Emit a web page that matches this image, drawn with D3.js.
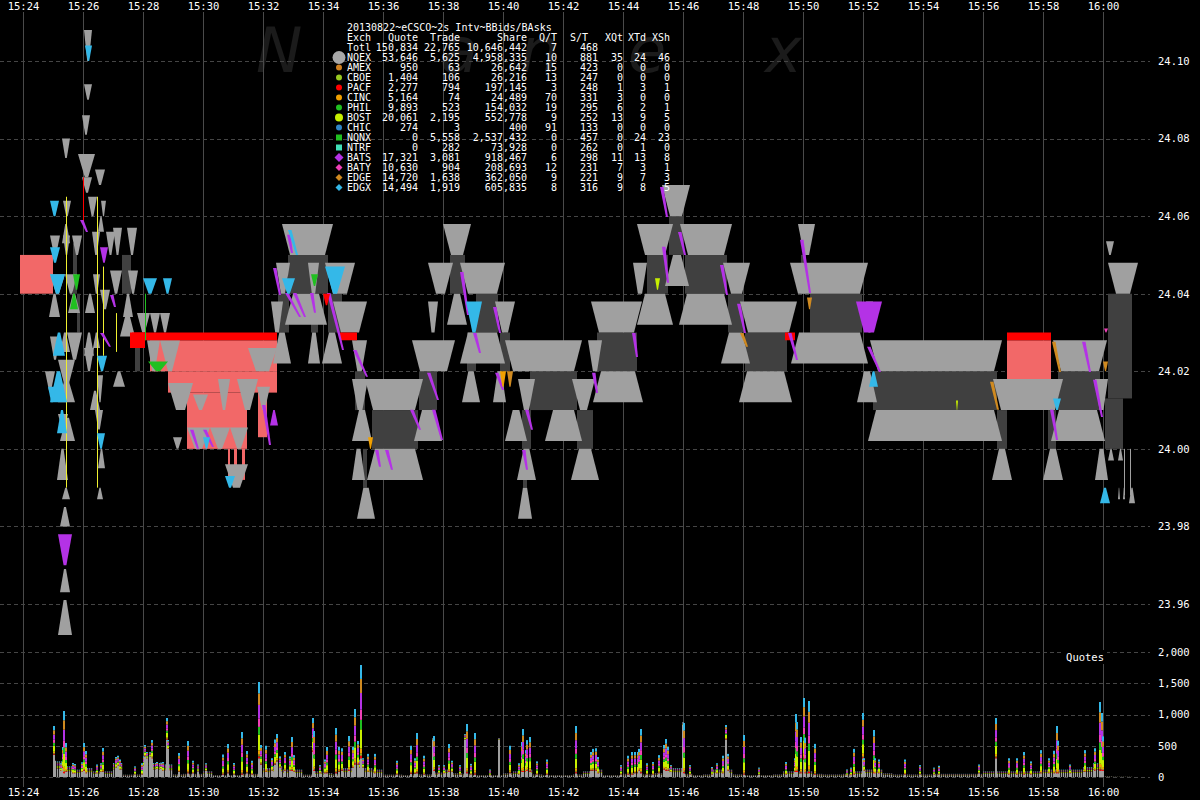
<!DOCTYPE html>
<html><head><meta charset="utf-8">
<script src="https://cdn.jsdelivr.net/npm/d3@7"></script>
<style>
html,body{margin:0;padding:0;background:#000;}
svg{display:block;}
</style></head><body>
<svg id="c" width="1200" height="800"></svg>
<script>
// ---------------- DATA ----------------
const chartTitle = "20130822~eCSCO~2s Intv~BBids/BAsks";
const priceTicks = [23.96, 23.98, 24.00, 24.02, 24.04, 24.06, 24.08, 24.10];
const volumeTicks = [0, 500, 1000, 1500, 2000];

const exchanges   = ["NQEX","AMEX","CBOE","PACF","CINC","PHIL","BOST","CHIC","NQNX","NTRF","BATS","BATY","EDGE","EDGX"];
const quoteCounts = [53646,950,1404,2277,5164,9893,20061,274,0,0,17321,10630,14720,14494];
const tradeCounts = [5625,63,106,794,74,523,2195,3,5558,282,3081,904,1638,1919];
const shareCounts = [4958335,26642,26216,197145,24489,154032,552778,400,2537432,73928,918467,208693,362050,605835];
const qtRatio = [10,15,13,3,70,19,9,91,0,0,6,12,9,8];
const stRatio = [881,423,247,248,331,295,252,133,457,262,298,231,221,316];
const pctQt = [35,0,0,1,3,6,13,0,0,0,11,7,9,9];
const pctTd = [24,0,0,3,0,2,9,0,24,1,13,3,7,8];
const pctSh = [46,0,0,1,0,1,5,0,23,0,8,1,3,5];
const totalRow = ["150,834","22,765","10,646,442","7","468"];

// NBBO best ask levels [start, end, price]
const nbboAsks = [
 ["15:32:38","15:34:20",24.05],["15:32:26","15:32:54",24.04],["15:33:30","15:33:52",24.04],["15:34:04","15:35:04",24.04],
 ["15:34:20","15:35:28",24.03],["15:32:16","15:32:40",24.03],["15:34:58","15:35:28",24.02],["15:34:58","15:35:30",24.01],
 ["15:35:24","15:37:20",24.01],["15:36:58","15:38:24",24.02],["15:37:30","15:38:20",24.04],["15:38:00","15:38:56",24.05],
 ["15:37:30","15:37:50",24.03],["15:38:34","15:40:04",24.04],["15:39:44","15:40:24",24.03],["15:40:04","15:42:38",24.02],
 ["15:40:30","15:41:04",24.01],["15:42:18","15:43:04",24.01],["15:42:56","15:44:38",24.03],["15:42:50","15:43:18",24.02],
 ["15:44:28","15:45:40",24.05],["15:44:20","15:44:48",24.04],["15:45:18","15:46:14",24.06],["15:45:54","15:47:38",24.05],
 ["15:47:20","15:48:14",24.04],["15:47:54","15:49:48",24.03],["15:49:50","15:50:24",24.05],["15:49:34","15:52:10",24.04],
 ["15:52:06","15:52:20",24.03],["15:52:14","15:56:38",24.02],["15:56:20","15:58:40",24.01],["15:58:20","16:00:08",24.02],
 ["15:59:44","16:00:10",24.01],["16:00:10","16:01:10",24.04]
];
// NBBO best bid levels [start, end, price]
const nbboBids = [
 ["15:32:44","15:34:08",24.04],["15:32:20","15:32:56",24.03],["15:33:30","15:33:54",24.03],["15:33:58","15:34:38",24.03],
 ["15:34:58","15:35:38",24.01],["15:34:58","15:35:24",24.00],["15:35:08","15:35:44",23.99],["15:35:28","15:37:20",24.00],
 ["15:37:02","15:37:58",24.01],["15:38:08","15:38:48",24.04],["15:38:34","15:40:04",24.03],["15:38:38","15:39:14",24.02],
 ["15:39:40","15:40:06",24.02],["15:40:04","15:40:48",24.01],["15:41:24","15:42:38",24.01],["15:40:28","15:41:06",24.00],
 ["15:40:30","15:40:58",23.99],["15:42:16","15:43:12",24.00],["15:43:00","15:44:40",24.02],["15:44:28","15:45:40",24.04],
 ["15:45:24","15:46:12",24.05],["15:45:52","15:47:38",24.04],["15:47:16","15:48:14",24.03],["15:47:52","15:49:38",24.02],
 ["15:49:36","15:52:10",24.03],["15:51:48","15:52:28",24.02],["15:52:10","15:56:38",24.01],["15:56:18","15:56:58",24.00],
 ["15:58:16","16:00:04",24.01],["15:58:00","15:58:40",24.00],["15:59:44","16:00:10",24.00]
];
// NBBO spread [start, end, bid, ask]
const nbboSpreads = [
 ["15:25:40","15:25:48",24.04,24.053],["15:27:18","15:27:36",24.04,24.05],["15:25:48","15:25:54",24.03,24.04],["15:27:44","15:27:54",24.02,24.028],
 ["15:32:50","15:34:10",24.04,24.05],["15:32:30","15:32:52",24.03,24.04],["15:33:36","15:33:50",24.03,24.04],["15:34:10","15:34:38",24.03,24.04],
 ["15:35:04","15:35:24",24.01,24.02],["15:35:38","15:37:10",24.00,24.01],["15:35:20","15:35:28",23.99,24.00],["15:37:12","15:37:48",24.01,24.02],
 ["15:38:14","15:38:44",24.04,24.05],["15:39:06","15:39:50",24.03,24.04],["15:38:48","15:39:06",24.02,24.03],["15:39:54","15:40:14",24.02,24.03],
 ["15:40:54","15:42:28",24.01,24.02],["15:40:38","15:40:56",24.00,24.01],["15:40:40","15:40:48",23.99,24.00],["15:42:28","15:43:00",24.00,24.01],
 ["15:43:08","15:44:28",24.02,24.03],["15:44:48","15:45:30",24.04,24.05],["15:45:32","15:46:02",24.05,24.06],["15:46:04","15:47:28",24.04,24.05],
 ["15:47:30","15:48:00",24.03,24.04],["15:48:04","15:49:28",24.02,24.03],["15:50:14","15:51:58",24.03,24.04],["15:52:20","15:56:28",24.01,24.02],
 ["15:56:28","15:56:48",24.00,24.01],["15:58:30","15:59:54",24.01,24.02],["15:58:10","15:58:26",24.00,24.01],["16:00:10","16:00:58",24.013,24.04],
 ["16:00:04","16:00:40",24.00,24.013],["15:49:56","15:50:06",24.04,24.05]
];
// fleeting quotes [start, end, price at spread side, far price, exchange]
const flashQuotes = [
 ["15:25:20","15:25:36",24.06,24.064,"NQEX"],["15:26:10","15:26:28",24.06,24.065,"NQEX"],["15:26:36","15:26:46",24.06,24.064,"NQEX"],
 ["15:25:58","15:26:18",24.066,24.07,"NQEX"],["15:25:20","15:25:34",24.05,24.055,"NQEX"],["15:25:38","15:25:58",24.05,24.055,"NQEX"],
 ["15:26:18","15:26:34",24.05,24.056,"NQEX"],["15:26:46","15:27:04",24.05,24.056,"NQEX"],["15:27:00","15:27:18",24.05,24.057,"NQEX"],
 ["15:27:28","15:27:48",24.05,24.057,"NQEX"],["15:24:54","15:25:14",24.05,24.055,"NQEX"],["15:24:54","15:25:24",24.04,24.045,"NQEX"],
 ["15:25:24","15:25:48",24.04,24.045,"NQEX"],["15:26:20","15:26:34",24.04,24.045,"NQEX"],["15:26:54","15:27:18",24.04,24.046,"NQEX"],
 ["15:27:30","15:27:50",24.04,24.046,"NQEX"],["15:24:54","15:25:14",24.023,24.029,"NQEX"],["15:25:28","15:25:58",24.023,24.03,"NQEX"],
 ["15:27:48","15:28:14",24.03,24.035,"NQEX"],["15:28:14","15:28:34",24.03,24.035,"NQEX"],["15:28:34","15:28:54",24.03,24.035,"NQEX"],
 ["15:28:08","15:28:34",24.02,24.028,"NQEX"],["15:28:34","15:29:14",24.02,24.028,"NQEX"],["15:25:10","15:25:44",24.016,24.023,"NQEX"],
 ["15:26:28","15:26:40",24.012,24.019,"NQEX"],["15:25:10","15:25:30",24.005,24.009,"NQEX"],["15:26:02","15:26:18",24.10,24.108,"NQEX"],
 ["15:26:02","15:26:18",24.09,24.094,"NQEX"],["15:25:58","15:26:14",24.081,24.086,"NQEX"],["15:25:50","15:26:24",24.07,24.076,"NQEX"],
 ["15:26:24","15:26:44",24.068,24.072,"NQEX"],["15:25:18","15:25:34",24.075,24.08,"NQEX"],["15:28:50","15:29:40",24.01,24.017,"NQEX"],
 ["15:29:40","15:30:10",24.01,24.014,"NQEX"],["15:30:30","15:30:54",24.01,24.018,"NQEX"],["15:31:08","15:31:50",24.01,24.018,"NQEX"],
 ["15:31:48","15:32:14",24.01,24.016,"NQEX"],["15:31:30","15:32:28",24.02,24.026,"NQEX"],["15:29:28","15:30:14",24.00,24.0055,"NQEX"],
 ["15:30:14","15:30:54",24.00,24.0055,"NQEX"],["15:30:54","15:31:30",24.00,24.0055,"NQEX"],["15:30:44","15:31:30",23.99,23.996,"NQEX"],
 ["15:29:00","15:29:18",24.00,24.003,"NQEX"],
 ["15:24:52","15:25:14",24.04,24.034,"NQEX"],["15:25:30","15:25:54",24.04,24.035,"NQEX"],["15:27:20","15:27:40",24.04,24.034,"NQEX"],
 ["15:27:00","15:27:24",24.02,24.016,"NQEX"],["15:25:10","15:25:44",24.018,24.012,"NQEX"],["15:25:08","15:25:30",24.00,23.992,"NQEX"],
 ["15:26:30","15:26:44",24.00,23.995,"NQEX"],["15:25:18","15:25:34",23.99,23.987,"NQEX"],["15:26:28","15:26:40",23.99,23.987,"NQEX"],
 ["15:25:14","15:25:34",23.985,23.98,"NQEX"],["15:25:14","15:25:34",23.969,23.963,"NQEX"],["15:25:10","15:25:38",23.961,23.952,"NQEX"],
 ["15:26:04","15:26:24",24.04,24.035,"NQEX"],["15:26:20","15:26:34",24.03,24.026,"NQEX"],["15:26:14","15:26:34",24.015,24.01,"NQEX"],
 ["15:25:14","15:25:34",24.03,24.025,"NQEX"],["15:26:30","15:26:42",24.06,24.056,"NQEX"],
 ["15:24:44","15:25:04",24.015,24.02,"NQEX"],["15:26:02","15:26:22",24.03,24.024,"NQEX"],["15:26:02","15:26:22",24.02,24.026,"NQEX"],
 ["15:25:14","15:25:44",24.008,24.002,"NQEX"],["15:26:34","15:26:54",24.036,24.041,"NQEX"],["15:27:14","15:27:44",24.035,24.029,"NQEX"],
 ["15:26:24","15:26:40",24.005,24.01,"NQEX"],["15:25:18","15:25:34",24.058,24.053,"NQEX"],
 ["16:00:06","16:00:22",24.05,24.0535,"NQEX"],["16:00:10","16:00:22",24.00,23.997,"NQEX"],["16:00:30","16:00:40",24.00,23.997,"NQEX"],
 ["16:00:30","16:00:34",23.99,23.987,"NQEX"],["16:00:40","16:00:44",23.99,23.987,"NQEX"],["16:00:52","16:01:04",23.99,23.986,"NQEX"],
 ["15:24:54","15:25:12",24.06,24.064,"EDGX"],["15:24:54","15:25:14",24.048,24.052,"EDGX"],["15:24:54","15:25:24",24.04,24.045,"EDGX"],
 ["15:28:00","15:28:28",24.04,24.044,"EDGX"],["15:28:40","15:28:58",24.04,24.044,"EDGX"],["15:26:28","15:26:48",24.02,24.024,"EDGX"],
 ["15:24:54","15:25:28",24.02,24.012,"EDGX"],["15:25:08","15:25:28",24.01,24.004,"EDGX"],["15:26:28","15:26:44",24.00,24.004,"EDGX"],
 ["15:25:00","15:25:24",24.03,24.024,"EDGX"],["15:26:04","15:26:18",24.10,24.104,"EDGX"],["15:26:34","15:26:50",24.048,24.052,"BATS"],
 ["15:25:10","15:25:38",23.97,23.978,"BATS"],["15:25:34","15:25:50",24.04,24.036,"PHIL"],["15:25:40","15:25:54",24.041,24.045,"PHIL"],
 ["15:30:44","15:31:04",23.99,23.993,"EDGX"],["15:32:14","15:32:30",24.01,24.006,"BATS"],["15:51:46","15:52:38",24.03,24.038,"BATS"],
 ["15:38:46","15:39:18",24.03,24.038,"EDGX"],["15:59:54","16:00:14",23.99,23.986,"EDGX"],["15:34:04","15:34:44",24.04,24.047,"EDGX"],
 ["15:32:38","15:33:04",24.04,24.044,"EDGX"],["15:33:36","15:33:50",24.042,24.045,"PHIL"],["15:35:30","15:35:40",24.00,24.003,"CINC"],
 ["15:45:04","15:45:14",24.041,24.044,"BOST"],["15:50:08","15:50:18",24.036,24.039,"EDGE"],["15:52:12","15:52:30",24.02,24.016,"EDGX"],
 ["15:58:20","15:58:36",24.01,24.013,"EDGX"],["16:00:00","16:00:10",24.02,24.0225,"EDGE"],["16:00:02","16:00:10",24.03,24.031,"BATY"],
 ["15:34:00","15:34:14",24.037,24.04,"PACF"],["15:39:54","15:40:06",24.016,24.02,"CINC"],["15:40:08","15:40:20",24.016,24.02,"EDGE"],
 ["15:28:10","15:28:50",24.02,24.0225,"PHIL"],["15:30:00","15:30:14",24.00,24.003,"EDGX"],["15:55:06","15:55:10",24.01,24.0125,"BOST"],
 ["15:24:50","15:25:06",24.012,24.016,"EDGX"]
];
// exchange quote streaks [start, end, top price, bottom price, exchange]
const quoteStreaks = [
 ["15:32:20","15:32:34",24.0466,24.0397,"BATS"],["15:32:48","15:32:58",24.0552,24.0505,"BATS"],["15:32:44","15:33:14",24.0402,24.034,"BATS"],
 ["15:33:00","15:33:24",24.0402,24.034,"BATS"],["15:33:34","15:33:44",24.0402,24.0351,"BATS"],["15:34:08","15:34:40",24.0402,24.0255,"BATS"],
 ["15:35:00","15:35:28",24.0255,24.0186,"BATS"],["15:35:44","15:35:54",23.9997,23.9954,"BATS"],["15:36:04","15:36:18",23.9997,23.9946,"BATS"],
 ["15:36:54","15:37:14",24.0101,24.0049,"BATS"],["15:37:38","15:37:58",24.0101,24.0023,"BATS"],["15:37:28","15:37:50",24.0196,24.0126,"BATS"],
 ["15:38:34","15:38:50",24.0456,24.0345,"BATS"],["15:39:00","15:39:14",24.0299,24.0247,"BATS"],["15:39:40","15:39:54",24.0366,24.0299,"BATS"],
 ["15:39:44","15:40:00",24.0196,24.0152,"BATS"],["15:40:38","15:40:48",23.9997,23.9946,"BATS"],["15:40:44","15:40:58",24.0101,24.0049,"BATS"],
 ["15:42:58","15:43:08",24.0196,24.0144,"BATS"],["15:44:18","15:44:28",24.0299,24.0237,"BATS"],["15:45:18","15:45:30",24.0521,24.0428,"BATS"],
 ["15:45:14","15:45:28",24.0675,24.0598,"BATS"],["15:45:50","15:46:04",24.0559,24.05,"BATS"],["15:47:14","15:47:28",24.0474,24.0397,"BATS"],
 ["15:47:48","15:48:04",24.0374,24.0299,"BATS"],["15:49:30","15:49:48",24.0299,24.0229,"BATS"],["15:49:54","15:50:14",24.0539,24.0402,"BATS"],
 ["15:52:08","15:52:34",24.0263,24.0198,"BATS"],["15:56:14","15:56:30",24.0173,24.0101,"EDGE"],["15:58:18","15:58:34",24.0276,24.0198,"EDGE"],
 ["15:59:18","15:59:34",24.0276,24.0198,"BATS"],["15:59:40","15:59:58",24.0178,24.0082,"BATS"],["15:58:14","15:58:28",24.0101,24.0023,"BATS"],
 ["15:47:54","15:48:08",24.0299,24.0263,"EDGE"],["15:25:54","15:26:08",24.059,24.0559,"BATS"],["15:26:54","15:27:04",24.0397,24.0366,"BATS"],
 ["15:26:34","15:26:54",24.0299,24.0263,"BATS"],["15:29:34","15:29:50",24.0049,24.0,"BATS"],["15:30:00","15:30:20",24.0049,24.0005,"BATS"],
 ["15:31:58","15:32:14",24.0113,24.001,"BATS"],["15:32:50","15:33:08",24.0564,24.05,"EDGX"]
];
// thin quote lines [time, top price, bottom price, exchange]
const quoteLines = [
 ["15:25:26",24.065,23.99,"BOST"],["15:26:28",24.065,23.99,"BOST"],["15:26:40",24.047,24.024,"BOST"],["15:27:06",24.035,24.025,"BOST"],
 ["15:28:04",24.04,24.028,"PHIL"],["16:00:42",24.00,23.988,"NQEX"],["16:00:54",24.00,23.988,"NQEX"],["15:26:00",24.07,24.058,"PACF"]
];
// PACF quote spread boxes [start, end, low price, high price]
const pacfBoxes = [
 ["15:23:54","15:25:00",24.04,24.05],["15:28:14","15:32:28",24.02,24.028],["15:28:50","15:32:28",24.0145,24.02],
 ["15:29:28","15:31:28",24.00,24.0145],["15:31:50","15:32:08",24.003,24.0145],["15:30:50","15:30:54",23.992,24.00],
 ["15:31:02","15:31:08",23.992,24.00],["15:31:18","15:31:24",23.992,24.00],["15:56:48","15:58:16",24.018,24.028],
 ["15:57:32","15:57:40",24.0157,24.018]
];
// PACF ask bars [start, end, low price, high price]
const pacfAsks = [
 ["15:27:38","15:32:28",24.028,24.030],["15:27:34","15:28:04",24.026,24.030],["15:34:34","15:35:08",24.028,24.030],
 ["15:49:24","15:49:44",24.028,24.030],["15:56:48","15:58:16",24.028,24.030]
];
// quote counts: baseline per 20-second bucket from 15:25:00
const quoteBaseStart = "15:25:00";
const quoteBase = [250,170,117,144,90,90,224,37,40,330, 224,200,40,50,50,90,30,30,30,50,
 50,144,170,117,117,37,90,64,40,144, 277,144,117,37,37,30,40,40,70,117,
 60,50,30,30,30,60,90,117,40,30, 30,30,40,90,117,30,30,50,60,40,
 60,144,144,50,30,40,117,117,40,30, 30,30,40,90,90,90,50,40,40,50,
 90,117,117,60,40,40,40,40,50,50, 50,50,50,90,90,90,90,90,90,117,
 117,117,117,160,220,10,5,5];
// quote count spikes (2s intervals)
const spikeTimes = ["15:25:02","15:25:04","15:25:16","15:25:20","15:25:22","15:25:26","15:25:40","15:25:44","15:25:58","15:26:02","15:26:06","15:26:28","15:26:36","15:26:40","15:27:06","15:27:10","15:27:14","15:27:44","15:27:58","15:28:04","15:28:08","15:28:14","15:28:18","15:28:28","15:28:36","15:28:40","15:28:48","15:28:50","15:29:12","15:29:30","15:29:40","15:29:50","15:30:06","15:30:40","15:30:50","15:31:02","15:31:18","15:31:28","15:31:38","15:31:52","15:31:56","15:32:06","15:32:18","15:32:24","15:32:28","15:32:34","15:32:44","15:32:54","15:32:58","15:33:02","15:33:40","15:33:42","15:33:54","15:34:04","15:34:08","15:34:26","15:34:32","15:34:38","15:34:52","15:35:00","15:35:04","15:35:10","15:35:16","15:35:20","15:35:30","15:35:44","15:36:28",
 "15:36:56","15:37:04","15:37:08","15:37:22","15:37:40","15:37:42","15:37:52","15:38:02","15:38:12","15:38:18","15:38:34","15:38:44","15:38:48","15:38:56","15:39:04","15:39:34","15:39:52","15:40:14","15:40:32","15:40:38","15:40:40","15:40:46","15:40:48","15:40:54","15:41:08","15:41:28","15:42:26","15:42:56","15:43:00","15:43:06","15:43:10","15:43:56","15:44:10","15:44:18","15:44:24","15:44:30","15:44:32","15:44:36","15:44:48","15:45:00","15:45:12","15:45:22","15:45:26","15:45:30","15:45:36","15:46:00","15:46:02","15:46:14","15:46:58","15:47:08","15:47:20","15:47:26","15:47:30","15:48:02",
 "15:48:32","15:49:26","15:49:44","15:49:46","15:49:48","15:49:56","15:50:02","15:50:04","15:50:12","15:50:24","15:51:28","15:51:36","15:51:42","15:52:00","15:52:02","15:52:22","15:52:24","15:52:32","15:53:24","15:53:54","15:54:22","15:54:32","15:55:52","15:56:26","15:56:52","15:57:08","15:57:22","15:57:36","15:57:56","15:58:12","15:58:22","15:58:28","15:58:30","15:58:54","15:59:24","15:59:44","15:59:54","15:59:58","16:00:00"];
const spikeTotals = [816,260,220,480,1056,544,224,208,235,544,416,200,220,464,320,340,280,170,220,512,400,400,592,240,230,240,944,592,384,576,260,200,220,360,528,224,720,416,260,1520,512,500,300,600,688,330,400,330,640,350,944,736,190,280,480,784,480,460,656,480,1088,576,1792,300,370,370,260,
 500,300,704,340,624,656,190,190,528,260,190,688,848,210,704,120,624,500,220,560,768,430,590,640,250,280,816,400,450,460,320,190,340,400,400,400,450,768,220,240,350,512,608,480,190,880,864,190,160,220,340,832,370,672,
 150,240,300,1008,880,640,1264,630,1216,530,120,150,450,1024,300,752,300,280,280,190,150,180,200,944,300,300,400,250,430,300,420,816,580,200,430,460,1200,1024,650];
const spikeGray = [357,260,100,150,60,80,60,60,80,100,60,60,80,80,150,180,120,40,40,330,300,330,300,130,130,100,600,450,80,60,60,90,100,40,60,40,40,60,40,300,200,80,100,200,250,150,100,100,100,80,400,100,60,60,60,60,80,100,100,150,200,200,300,150,80,60,40,
 50,50,60,40,600,100,60,60,80,80,40,600,60,40,40,30,600,60,40,80,80,80,100,80,40,40,60,100,100,100,60,40,40,40,60,60,100,60,40,40,60,120,100,100,80,840,60,40,40,60,60,600,100,40,
 40,40,80,80,80,60,280,60,60,40,30,30,40,300,100,60,60,60,40,40,40,40,60,300,40,40,40,40,60,60,60,60,60,60,80,100,100,100,100];

// ---------------- STYLE / SETUP ----------------
const exColor = {NQEX:"#a0a0a0",AMEX:"#d08020",CBOE:"#98c820",PACF:"#ff0000",CINC:"#f0a000",PHIL:"#20c020",BOST:"#c8f000",
  CHIC:"#2f86c8",NQNX:"#20c020",NTRF:"#40e0b8",BATS:"#b432e6",BATY:"#f040b8",EDGE:"#d08a20",EDGX:"#34b8e8"};
const GRAY="#a0a0a0", DARK="#404040", SALMON="#f26868";
const MONO = "DejaVu Sans Mono, monospace";

const parse = d3.timeParse("%H:%M:%S");
const x = d3.scaleTime().domain([parse("15:24:00"), parse("16:00:00")]).range([23, 1103]);
const yP = d3.scaleLinear().domain([23.96, 24.10]).range([604, 61]);
const yV = d3.scaleLinear().domain([0, 2000]).range([777, 652]);
const X = s => x(parse(s));

const svg = d3.select("#c");
svg.append("rect").attr("width",1200).attr("height",800).attr("fill","#000");

// watermark (background logo)
const wm = svg.append("g").attr("font-family","DejaVu Sans").attr("font-style","italic").attr("font-size",62).attr("fill","#1b1b1b");
[["N",256],["a",440],["n",520],["e",628],["x",765]].forEach(([c,px])=>wm.append("text").attr("x",px).attr("y",72).text(c));

// grid
const grid = svg.append("g");
const timeTicks = x.ticks(d3.timeMinute.every(2));
grid.selectAll("line.v").data(timeTicks).join("line")
  .attr("x1",d=>Math.round(x(d))+0.5).attr("x2",d=>Math.round(x(d))+0.5)
  .attr("y1",12).attr("y2",787).attr("stroke","#4a4a4a").attr("stroke-width",1);
grid.selectAll("line.p").data(priceTicks).join("line")
  .attr("x1",0).attr("x2",1150).attr("y1",d=>Math.round(yP(d))+0.5).attr("y2",d=>Math.round(yP(d))+0.5)
  .attr("stroke","#454545").attr("stroke-dasharray","4,3");
grid.selectAll("line.q").data(volumeTicks).join("line")
  .attr("x1",0).attr("x2",1150).attr("y1",d=>Math.round(yV(d))+0.5).attr("y2",d=>Math.round(yV(d))+0.5)
  .attr("stroke","#454545").attr("stroke-dasharray","4,3");

const line = d3.line();
const poly = pts => line(pts) + "Z";
function band(t0,t1,pIn,pOut,maxIns,frac){
  const xa=X(t0), xb=X(t1), w=xb-xa, ins=Math.min(w*frac,maxIns);
  const yi=yP(pIn), yo=yP(pOut);
  return poly([[xa,yo],[xb,yo],[xb-ins,yi],[xa+ins,yi]]);
}
const main = svg.append("g");

main.selectAll("rect.pacf").data(pacfBoxes).join("rect")
  .attr("x",d=>X(d[0])).attr("width",d=>X(d[1])-X(d[0]))
  .attr("y",d=>yP(d[3])).attr("height",d=>yP(d[2])-yP(d[3])).attr("fill",SALMON);
main.selectAll("rect.spr").data(nbboSpreads).join("rect")
  .attr("x",d=>X(d[0])).attr("width",d=>Math.max(1,X(d[1])-X(d[0])))
  .attr("y",d=>yP(d[3])).attr("height",d=>yP(d[2])-yP(d[3])).attr("fill",DARK);
const DEPTH = 0.008;
main.selectAll("path.ask").data(nbboAsks).join("path").attr("d",d=>band(d[0],d[1],d[2],d[2]+DEPTH,8,0.35)).attr("fill",GRAY);
main.selectAll("path.bid").data(nbboBids).join("path").attr("d",d=>band(d[0],d[1],d[2],d[2]-DEPTH,8,0.35)).attr("fill",GRAY);
const flashGray = flashQuotes.filter(d=>d[4]==="NQEX"), flashCol = flashQuotes.filter(d=>d[4]!=="NQEX");
main.selectAll("path.fg").data(flashGray).join("path").attr("d",d=>band(d[0],d[1],d[2],d[3],8,0.4)).attr("fill",GRAY);
main.selectAll("rect.pask").data(pacfAsks).join("rect")
  .attr("x",d=>X(d[0])).attr("width",d=>X(d[1])-X(d[0]))
  .attr("y",d=>yP(d[3])).attr("height",d=>yP(d[2])-yP(d[3])).attr("fill","#ff0000");
main.selectAll("line.ql").data(quoteLines).join("line")
  .attr("x1",d=>Math.round(X(d[0]))+0.5).attr("x2",d=>Math.round(X(d[0]))+0.5)
  .attr("y1",d=>yP(d[1])).attr("y2",d=>yP(d[2])).attr("stroke",d=>d[3]==="BOST"?"#f0f030":exColor[d[3]]).attr("stroke-width",1);
main.selectAll("path.st").data(quoteStreaks).join("path")
  .attr("d",d=>{const x0=X(d[0]),x1=X(d[1]),y0=yP(d[2]),y1=yP(d[3]);return poly([[x0,y0],[x0+3.5,y0],[x1+1,y1],[x1-1,y1]]);})
  .attr("fill",d=>exColor[d[4]]);
main.selectAll("path.fc").data(flashCol).join("path").attr("d",d=>band(d[0],d[1],d[2],d[3],8,0.4)).attr("fill",d=>exColor[d[4]]);

// ---------------- VOLUME ----------------
const stackOrder = ["PACF","CHIC","AMEX","CBOE","CINC","BOST","PHIL","BATY","BATS","EDGE","EDGX"];
const stackW = stackOrder.map(e=>quoteCounts[exchanges.indexOf(e)]);
const W = d3.sum(stackW);
const vol = svg.append("g");
function stackBar(x0,w,total,gray){
  vol.append("rect").attr("x",x0).attr("width",w).attr("y",yV(gray)).attr("height",yV(0)-yV(gray)).attr("fill",GRAY);
  let acc=gray;
  stackOrder.forEach((e,i)=>{
    const h=(total-gray)*stackW[i]/W;
    if(h<=0) return;
    vol.append("rect").attr("x",x0).attr("width",w).attr("y",yV(acc+h)).attr("height",yV(acc)-yV(acc+h)).attr("fill",exColor[e]);
    acc+=h;
  });
}
const baseT0 = parse(quoteBaseStart);
quoteBase.forEach((v,i)=>{
  const t0=d3.timeSecond.offset(baseT0,20*i), t1=d3.timeSecond.offset(baseT0,20*(i+1));
  for(let px=x(t0); px<x(t1)-0.5; px+=2){ stackBar(px,1.2,v,v*0.55); }
});
spikeTimes.forEach((t,i)=>stackBar(X(t)-1,2,spikeTotals[i],spikeGray[i]));

// ---------------- AXES ----------------
function styleAxis(g,size){
  g.select(".domain").remove();
  g.selectAll("text").attr("fill","#fff").style("font-family",MONO).style("font-size",size+"px");
}
svg.append("g").attr("transform","translate(0,10)")
  .call(d3.axisTop(x).ticks(d3.timeMinute.every(2)).tickFormat(d3.timeFormat("%H:%M")).tickSize(0).tickPadding(0))
  .call(g=>styleAxis(g,10.5));
svg.append("g").attr("transform","translate(0,789)")
  .call(d3.axisBottom(x).ticks(d3.timeMinute.every(2)).tickFormat(d3.timeFormat("%H:%M")).tickSize(0).tickPadding(0))
  .call(g=>styleAxis(g,10.5));
svg.append("g").attr("transform","translate(1150,0)")
  .call(d3.axisRight(yP).tickValues(priceTicks).tickFormat(d3.format(".2f")).tickSize(0).tickPadding(8))
  .call(g=>styleAxis(g,10.5));
svg.append("g").attr("transform","translate(1150,0)")
  .call(d3.axisRight(yV).tickValues(volumeTicks).tickFormat(d3.format(",")).tickSize(0).tickPadding(8))
  .call(g=>styleAxis(g,10.5));
svg.append("rect").attr("x",1063).attr("y",650).attr("width",44).attr("height",14).attr("fill","#000");
svg.append("text").attr("x",1104).attr("y",661).attr("text-anchor","end").attr("fill","#fff")
  .style("font-family",MONO).style("font-size","10.5px").text("Quotes");

// ---------------- LEGEND TABLE ----------------
const lg = svg.append("g").style("font-family",MONO).style("font-size","10px").attr("fill","#fff");
const LX=347, rowY=i=>31+10*i;
const cols=[418,460,527,557,598,623,646,670];
lg.append("text").attr("x",LX).attr("y",rowY(0)).text(chartTitle);
lg.append("text").attr("x",LX).attr("y",rowY(1)).text("Exch");
[["Quote",418],["Trade",460],["Share",527],["Q/T",557],["S/T",588],["XQt",623],["XTd",646],["XSh",670]]
  .forEach(([t,cx])=>lg.append("text").attr("x",cx).attr("y",rowY(1)).attr("text-anchor","end").text(t));
lg.append("text").attr("x",LX).attr("y",rowY(2)).text("Totl");
totalRow.forEach((v,j)=>lg.append("text").attr("x",cols[j]).attr("y",rowY(2)).attr("text-anchor","end").text(v));
const fmt=d3.format(",");
const shapes={NQEX:"bigcircle",AMEX:"circle",CBOE:"circle",PACF:"circle",CINC:"circle",PHIL:"circle",BOST:"midcircle",CHIC:"circle",
  NQNX:"square",NTRF:"square",BATS:"bigdiamond",BATY:"diamond",EDGE:"diamond",EDGX:"diamond"};
exchanges.forEach((e,i)=>{
  const y=rowY(3+i);
  const vals=[fmt(quoteCounts[i]),fmt(tradeCounts[i]),fmt(shareCounts[i]),qtRatio[i],stRatio[i],pctQt[i],pctTd[i],pctSh[i]];
  lg.append("text").attr("x",LX).attr("y",y).text(e);
  vals.forEach((v,j)=>lg.append("text").attr("x",cols[j]).attr("y",y).attr("text-anchor","end").text(v));
  const cy=y-3.5, cx=339, c=exColor[e], s=shapes[e];
  if(s==="bigcircle") svg.append("circle").attr("cx",cx).attr("cy",cy).attr("r",6.5).attr("fill","#a8a8a8");
  else if(s==="circle") svg.append("circle").attr("cx",cx).attr("cy",cy).attr("r",3).attr("fill",c);
  else if(s==="midcircle") svg.append("circle").attr("cx",cx).attr("cy",cy).attr("r",4).attr("fill",c);
  else if(s==="square") svg.append("rect").attr("x",cx-3).attr("y",cy-3).attr("width",6).attr("height",6).attr("fill",c);
  else { const r = s==="bigdiamond"?4.5:3.5;
    svg.append("path").attr("d",poly([[cx,cy-r],[cx+r,cy],[cx,cy+r],[cx-r,cy]])).attr("fill",c); }
});
</script>
</body></html>
